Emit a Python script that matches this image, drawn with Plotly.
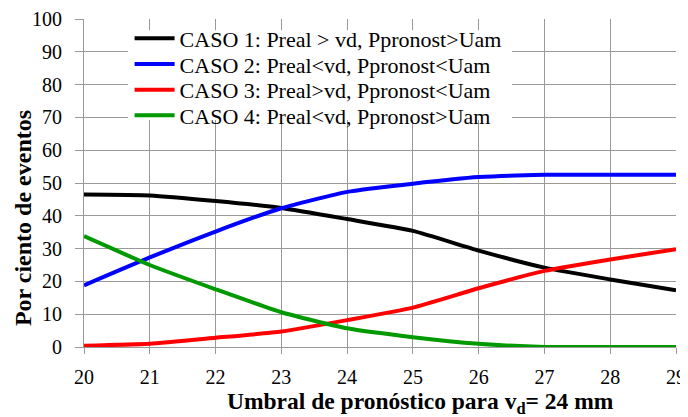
import plotly.graph_objects as go

umbral = [20, 21, 22, 23, 24, 25, 26, 27, 28, 29]
caso1 = [46.5, 46.2, 44.5, 42.4, 39.0, 35.4, 29.4, 24.2, 20.6, 17.3]
caso2 = [18.8, 27.3, 35.2, 42.3, 47.3, 49.8, 51.8, 52.5, 52.5, 52.5]
caso3 = [0.4, 1.0, 2.8, 4.7, 8.2, 12.0, 17.9, 23.2, 26.7, 29.8]
caso4 = [33.8, 25.0, 17.6, 10.6, 5.7, 3.0, 1.0, 0.0, 0.0, 0.0]

x_ticks = [20, 21, 22, 23, 24, 25, 26, 27, 28, 29]
y_ticks = [0, 10, 20, 30, 40, 50, 60, 70, 80, 90, 100]

names = [
    "CASO 1: Preal > vd, Ppronost>Uam",
    "CASO 2: Preal<vd, Ppronost<Uam",
    "CASO 3: Preal>vd, Ppronost<Uam",
    "CASO 4: Preal<vd, Ppronost>Uam",
]
colors = ["#000000", "#0000FF", "#FF0000", "#009900"]
legend_ids = ["legend", "legend2", "legend3", "legend4"]
legend_y = [0.941, 0.862, 0.784, 0.706]

x_title = "<b>Umbral de pronóstico para v<sub>d</sub>= 24 mm</b>"
y_title = "<b>Por ciento de eventos</b>"

SERIF = "Liberation Serif"


def serif_label(v):
    return f'<span style="font-family:Liberation Serif">{v}</span>'


fig = go.Figure()
for name, ys, c, lg in zip(names, [caso1, caso2, caso3, caso4], colors, legend_ids):
    fig.add_trace(go.Scatter(
        x=umbral, y=ys, name=name, mode="lines",
        line=dict(color=c, width=4, shape="spline", smoothing=0.5),
        cliponaxis=False, legend=lg,
    ))

legend_style = dict(
    x=0.077, xanchor="left", yanchor="middle",
    bgcolor="rgba(0,0,0,0)", borderwidth=0,
    font=dict(family=SERIF, size=22, color="black"),
    itemwidth=40,
)
layout_legends = {lg: dict(legend_style, y=yy) for lg, yy in zip(legend_ids, legend_y)}

# white background behind the legend block (hides the grid, as in the original)
fig.add_shape(type="rect", xref="paper", yref="paper",
              x0=0.0743, x1=0.723, y0=0.692, y1=0.966,
              fillcolor="white", line_width=0, layer="above")

fig.add_annotation(text=x_title, xref="paper", yref="paper",
                   x=0.5676, y=-0.172, xanchor="center", yanchor="middle",
                   showarrow=False, font=dict(family=SERIF, size=23.5, color="black"))
fig.add_annotation(text=y_title, xref="paper", yref="paper",
                   x=-0.103, y=0.393, xanchor="center", yanchor="middle",
                   textangle=-90, showarrow=False,
                   font=dict(family=SERIF, size=24, color="black"))

fig.update_layout(
    width=680, height=409,
    margin=dict(l=76, r=12, t=11, b=70, autoexpand=False),
    paper_bgcolor="white", plot_bgcolor="white",
    font=dict(family=SERIF, size=20, color="black"),
    showlegend=True,
    xaxis=dict(
        range=[20, 29], automargin=False,
        tickmode="array", tickvals=x_ticks,
        ticktext=[serif_label(v) for v in x_ticks],
        showgrid=True, gridcolor="#999999", gridwidth=1,
        showline=True, linecolor="#999999", linewidth=1,
        ticks="outside", ticklen=6, tickcolor="#999999",
        zeroline=False, ticklabelstandoff=6,
        tickfont=dict(family=SERIF, size=20, color="black"),
    ),
    yaxis=dict(
        range=[0, 100], automargin=False,
        tickmode="array", tickvals=y_ticks,
        ticktext=[serif_label(v) for v in y_ticks],
        showgrid=True, gridcolor="#999999", gridwidth=1,
        showline=True, linecolor="#999999", linewidth=1,
        ticks="outside", ticklen=8, tickcolor="#999999",
        zeroline=False, ticklabelstandoff=9,
        tickfont=dict(family=SERIF, size=20, color="black"),
    ),
    **layout_legends,
)
fig.write_html("out.html")
